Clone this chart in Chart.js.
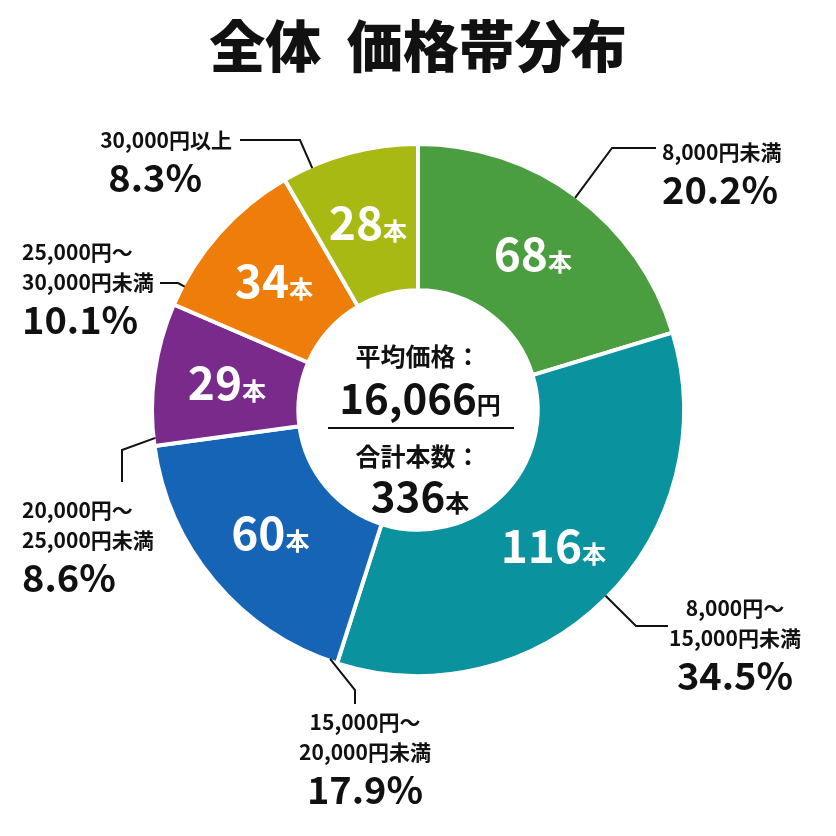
<!DOCTYPE html>
<html>
<head>
<meta charset="utf-8">
<script src="https://cdn.jsdelivr.net/npm/chart.js@4/dist/chart.umd.min.js"></script>
<style>
  html, body { margin: 0; padding: 0; background: #fff; }
  #wrap { width: 836px; height: 836px; }
</style>
</head>
<body>
<div id="wrap"><canvas id="myChart" width="836" height="836"></canvas></div>
<script>
const FONT = "'Noto Sans CJK JP', 'Noto Sans', sans-serif";

const titleText = "全体  価格帯分布";
const rangeLabels = [
  ["8,000円未満"],
  ["8,000円〜", "15,000円未満"],
  ["15,000円〜", "20,000円未満"],
  ["20,000円〜", "25,000円未満"],
  ["25,000円〜", "30,000円未満"],
  ["30,000円以上"],
];
const counts = [68, 116, 60, 29, 34, 28];
const shares = ["20.2%", "34.5%", "17.9%", "8.6%", "10.1%", "8.3%"];
const averagePrice = "16,066";
const totalCount = "336";

const sliceColors = ["#4b9e3f", "#0a929f", "#1564b5", "#7a2a8b", "#ef7d0a", "#a9b914"];

// callout layout: elbow point, end of line, text anchor x, first text line y, alignment
const callouts = [
  {elbow: [612, 148], end: [656, 148], tx: 662, ty: 152, align: "left"},
  {elbow: [636, 626], end: [668, 626], tx: 735, ty: 608, align: "center"},
  {elbow: [355, 690], end: [355, 704], tx: 365, ty: 722, align: "center"},
  {elbow: [122, 450], end: [122, 482], tx: 22, ty: 510, align: "left"},
  {elbow: [178, 283], end: [160, 283], tx: 22, ty: 252, align: "left"},
  {elbow: [300, 140], end: [240, 140], tx: 232, ty: 140, align: "right"},
];

const clampAngle = (a, lo, hi) => {
  while (a < lo) a += Math.PI * 2;
  while (a > lo + Math.PI * 2) a -= Math.PI * 2;
  if (a > hi) {
    // pick the nearer boundary
    const dHi = a - hi, dLo = lo + Math.PI * 2 - a;
    a = dHi < dLo ? hi : lo;
  }
  return a;
};

const labelPlugin = {
  id: "labels",
  afterDraw(chart) {
    const ctx = chart.ctx;
    const arcs = chart.getDatasetMeta(0).data;
    ctx.save();

    // title
    ctx.fillStyle = "#111";
    ctx.textAlign = "center";
    ctx.textBaseline = "middle";
    ctx.font = `900 56px ${FONT}`;
    ctx.fillText(titleText, 418, 46);

    arcs.forEach((arc, i) => {
      const {x, y, startAngle, endAngle, innerRadius, outerRadius} = arc.getProps(
        ["x", "y", "startAngle", "endAngle", "innerRadius", "outerRadius"], true);
      const mid = (startAngle + endAngle) / 2;

      // count inside slice
      const r = (innerRadius + outerRadius) / 2;
      const cx = x + Math.cos(mid) * r, cy = y + Math.sin(mid) * r;
      const num = String(counts[i]);
      ctx.font = `bold 46px ${FONT}`;
      const w1 = ctx.measureText(num).width;
      ctx.font = `bold 24px ${FONT}`;
      const w2 = ctx.measureText("本").width;
      const sx = cx - (w1 + w2) / 2;
      ctx.fillStyle = "#fff";
      ctx.textAlign = "left";
      ctx.textBaseline = "alphabetic";
      ctx.font = `bold 46px ${FONT}`;
      ctx.fillText(num, sx, cy + 16);
      ctx.font = `bold 24px ${FONT}`;
      ctx.fillText("本", sx + w1, cy + 16);

      // leader line, starting on the slice edge facing the callout
      const c = callouts[i];
      const pad = 0.03;
      const dir = clampAngle(Math.atan2(c.elbow[1] - y, c.elbow[0] - x), startAngle + pad, endAngle - pad);
      const ox = x + Math.cos(dir) * (outerRadius - 2), oy = y + Math.sin(dir) * (outerRadius - 2);
      ctx.strokeStyle = "#111";
      ctx.lineWidth = 2;
      ctx.beginPath();
      ctx.moveTo(ox, oy);
      ctx.lineTo(c.elbow[0], c.elbow[1]);
      ctx.lineTo(c.end[0], c.end[1]);
      ctx.stroke();

      // callout text
      ctx.fillStyle = "#111";
      ctx.textAlign = c.align;
      ctx.textBaseline = "middle";
      ctx.font = `bold 21px ${FONT}`;
      let ty = c.ty;
      rangeLabels[i].forEach(line => {
        ctx.fillText(line, c.tx, ty);
        ty += 30;
      });
      ctx.font = `bold 38px ${FONT}`;
      ctx.fillText(shares[i], c.align === "right" ? c.tx - 30 : c.tx, ty + 8);
    });

    // center text
    ctx.fillStyle = "#111";
    ctx.textAlign = "center";
    ctx.textBaseline = "middle";
    ctx.font = `bold 25px ${FONT}`;
    ctx.fillText("平均価格：", 418, 356);
    ctx.fillText("合計本数：", 418, 456);
    const drawNumUnit = (n, u, cy) => {
      ctx.font = `bold 42px ${FONT}`;
      const a = ctx.measureText(n).width;
      ctx.font = `bold 24px ${FONT}`;
      const b = ctx.measureText(u).width;
      const left = 420 - (a + b) / 2;
      ctx.textAlign = "left";
      ctx.textBaseline = "alphabetic";
      ctx.font = `bold 42px ${FONT}`;
      ctx.fillText(n, left, cy);
      ctx.font = `bold 24px ${FONT}`;
      ctx.fillText(u, left + a, cy);
    };
    drawNumUnit(averagePrice, "円", 414);
    drawNumUnit(totalCount, "本", 512);
    ctx.strokeStyle = "#111";
    ctx.lineWidth = 2;
    ctx.beginPath();
    ctx.moveTo(328, 428);
    ctx.lineTo(514, 428);
    ctx.stroke();

    ctx.restore();
  }
};

new Chart(document.getElementById("myChart"), {
  type: "doughnut",
  data: {
    labels: rangeLabels.map(l => l.join("")),
    datasets: [{
      data: counts,
      backgroundColor: sliceColors,
      borderColor: "#fff",
      borderWidth: 4,
    }],
  },
  options: {
    responsive: false,
    animation: false,
    cutout: "45%",
    layout: {padding: {top: 142, bottom: 158, left: 150, right: 150}},
    plugins: {legend: {display: false}, tooltip: {enabled: false}},
  },
  plugins: [labelPlugin],
});
</script>
</body>
</html>
